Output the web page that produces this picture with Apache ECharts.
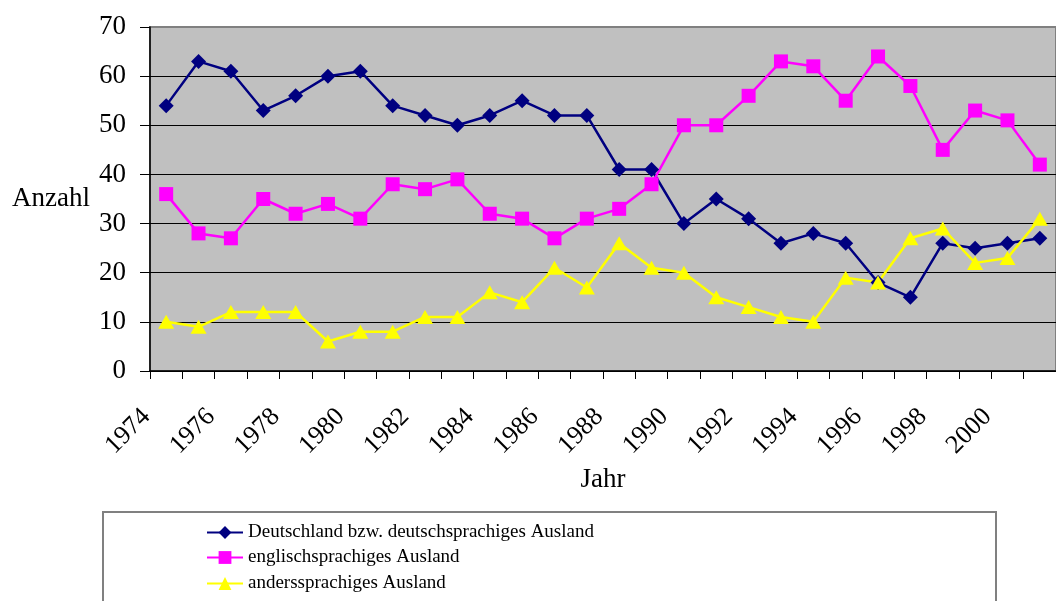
<!DOCTYPE html>
<html>
<head>
<meta charset="utf-8">
<script src="https://cdn.jsdelivr.net/npm/echarts@6/dist/echarts.min.js"></script>
<style>
html,body{margin:0;padding:0;background:#fff;}
#chart{width:1056px;height:601px;}
</style>
</head>
<body>
<div id="chart"></div>
<script>
var years = ['1974','1975','1976','1977','1978','1979','1980','1981','1982','1983','1984','1985','1986','1987','1988','1989','1990','1991','1992','1993','1994','1995','1996','1997','1998','1999','2000','2001'];
var deutsch = [54,63,61,53,56,60,61,54,52,50,52,55,52,52,41,41,30,35,31,26,28,26,18,15,26,25,26,27];
var englisch = [36,28,27,35,32,34,31,38,37,39,32,31,27,31,33,38,50,50,56,63,62,55,64,58,45,53,51,42];
var anders = [10,9,12,12,12,6,8,8,11,11,16,14,21,17,26,21,20,15,13,11,10,19,18,27,29,22,23,31];
var seriesNames = ['Deutschland bzw. deutschsprachiges Ausland','englischsprachiges Ausland','anderssprachiges Ausland'];
var yTicks = {min:0, max:70, interval:10};

var font = 'Liberation Serif';
var legendTops = [523, 548, 574];
var legends = seriesNames.map(function(n, i){
  return {
    orient:'vertical', left:206, top:legendTops[i], padding:0, itemWidth:36, itemHeight:16, itemGap:0, itemStyle:{}, z:5,
    textStyle:{fontFamily:font, fontSize:19, color:'#000'},
    data:[n]
  };
});
var chart = echarts.init(document.getElementById('chart'), null, {renderer:'canvas'});
chart.setOption({
  animation:false,
  backgroundColor:'#fff',
  textStyle:{fontFamily:font},
  grid:{left:150, top:27, width:914, height:344, show:true, backgroundColor:'#C0C0C0', borderColor:'#808080', borderWidth:2},
  graphic:[{type:'rect', z:0, shape:{x:103, y:512, width:893, height:110}, style:{fill:'#fff', stroke:'#808080', lineWidth:2}}],
  legend:legends,
  xAxis:{
    type:'category', data:years, boundaryGap:true,
    name:'Jahr', nameLocation:'middle', nameGap:109,
    nameTextStyle:{fontFamily:font, fontSize:27, color:'#000', verticalAlign:'middle'},
    axisLine:{lineStyle:{color:'#000', width:1.5}},
    axisTick:{show:true, length:8, interval:0, lineStyle:{color:'#000'}},
    axisLabel:{interval:1, rotate:45, margin:22, padding:[0,28,0,0], fontFamily:font, fontSize:26, color:'#000'},
    splitLine:{show:false}
  },
  yAxis:{
    type:'value', min:yTicks.min, max:yTicks.max, interval:yTicks.interval,
    name:'Anzahl', nameLocation:'middle', nameGap:60, nameRotate:0,
    nameTextStyle:{fontFamily:font, fontSize:27, color:'#000', align:'right', verticalAlign:'middle'},
    axisLine:{show:true, lineStyle:{color:'#000', width:1.5}},
    axisTick:{show:true, inside:false, length:10, lineStyle:{color:'#000'}},
    axisLabel:{margin:24, fontFamily:font, fontSize:27, color:'#000'},
    splitLine:{show:true, lineStyle:{color:['#000','#000','#000','#000','#000','#000','#000','#808080'], width:1}}
  },
  series:[
    {name:seriesNames[0], type:'line', data:deutsch, symbol:'diamond', symbolSize:15, color:'#000080',
     lineStyle:{width:2.5, color:'#000080'}, itemStyle:{color:'#000080'}},
    {name:seriesNames[1], type:'line', data:englisch, symbol:'rect', symbolSize:14, color:'#FF00FF',
     lineStyle:{width:2.5, color:'#FF00FF'}, itemStyle:{color:'#FF00FF'}},
    {name:seriesNames[2], type:'line', data:anders, symbol:'triangle', symbolSize:[16,14], color:'#FFFF00',
     lineStyle:{width:2.5, color:'#FFFF00'}, itemStyle:{color:'#FFFF00'}}
  ]
});
</script>
</body>
</html>
